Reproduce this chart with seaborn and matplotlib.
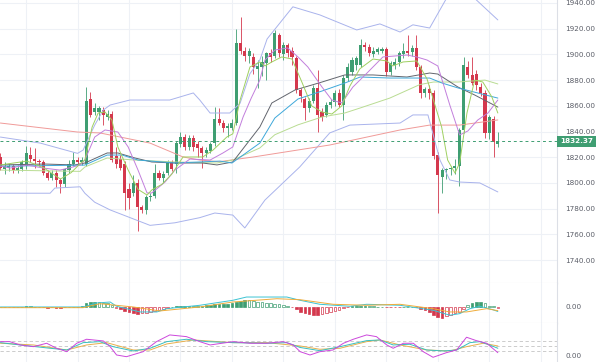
import numpy as np
import pandas as pd
import seaborn as sns
import matplotlib.pyplot as plt
import matplotlib.transforms as mtrans

# =========================
# DATA
# =========================
opens = [1820, 1811, 1812, 1813, 1810, 1811, 1813, 1822, 1819, 1817,
         1816, 1808, 1804, 1808, 1802, 1799, 1810, 1815, 1818, 1816,
         1815, 1865, 1855, 1855, 1857, 1851, 1854, 1821, 1819, 1815,
         1795, 1792, 1800, 1781, 1779, 1789, 1790, 1808, 1804, 1808,
         1816, 1815, 1830, 1836, 1828, 1835, 1830, 1827, 1823, 1825,
         1831, 1850, 1847, 1843, 1843, 1847, 1909, 1903, 1899, 1898,
         1889, 1890, 1893, 1901, 1899, 1915, 1900, 1907, 1903, 1897,
         1872, 1865, 1858, 1864, 1874, 1855, 1853, 1861, 1863, 1870,
         1861, 1882, 1886, 1892, 1892, 1907, 1906, 1900, 1902, 1903,
         1904, 1886, 1892, 1894, 1900, 1903, 1902, 1905, 1890, 1870,
         1873, 1870, 1822, 1805, 1810, 1811, 1812, 1813, 1841, 1890,
         1884, 1885, 1875, 1870, 1839, 1850, 1830.5]
highs = [1823, 1816, 1815, 1815, 1814, 1818, 1829, 1828, 1827, 1819,
         1818, 1810, 1810, 1810, 1804, 1812, 1818, 1824, 1820, 1820,
         1875, 1871, 1862, 1860, 1859, 1857, 1856, 1828, 1822, 1817,
         1800, 1806, 1803, 1783, 1791, 1792, 1815, 1810, 1809, 1818,
         1818, 1833, 1840, 1838, 1837, 1837, 1833, 1829, 1828, 1832,
         1859, 1858, 1849, 1847, 1850, 1920, 1929, 1906, 1905, 1901,
         1896, 1899, 1902, 1904, 1919, 1917, 1910, 1909, 1906, 1899,
         1874, 1867, 1866, 1876, 1888, 1858, 1863, 1865, 1872, 1873,
         1884, 1893, 1898, 1899, 1912, 1910, 1908, 1906, 1906, 1906,
         1906, 1895, 1897, 1903, 1909, 1915, 1907, 1915, 1892, 1875,
         1876, 1872, 1824, 1812, 1812, 1813, 1819, 1843, 1898, 1895,
         1898, 1888, 1878, 1872, 1853, 1852, 1840]
lows = [1810, 1807, 1809, 1808, 1808, 1809, 1811, 1816, 1812, 1813,
        1806, 1802, 1802, 1797, 1792, 1797, 1808, 1813, 1815, 1814,
        1813, 1851, 1853, 1849, 1845, 1849, 1816, 1812, 1810, 1779,
        1780, 1790, 1763, 1777, 1776, 1786, 1788, 1802, 1800, 1806,
        1809, 1808, 1828, 1826, 1826, 1825, 1820, 1812, 1820, 1823,
        1829, 1845, 1840, 1836, 1841, 1845, 1900, 1895, 1893, 1885,
        1874, 1883, 1880, 1894, 1897, 1898, 1896, 1898, 1892, 1870,
        1863, 1849, 1855, 1862, 1840, 1848, 1851, 1858, 1860, 1859,
        1849, 1879, 1884, 1888, 1890, 1903, 1899, 1898, 1900, 1901,
        1883, 1884, 1889, 1891, 1897, 1899, 1899, 1888, 1866, 1867,
        1865, 1819, 1777, 1792, 1803, 1806, 1807, 1798, 1839, 1882,
        1876, 1872, 1868, 1835, 1834, 1820, 1828]
closes = [1812, 1813, 1813, 1810, 1812, 1816, 1823, 1819, 1817, 1816,
          1808, 1804, 1808, 1802, 1799, 1811, 1815, 1818, 1816, 1818,
          1864, 1853, 1858, 1858, 1853, 1854, 1818, 1815, 1812, 1792,
          1788, 1800, 1781, 1779, 1789, 1790, 1808, 1804, 1807, 1816,
          1811, 1831, 1836, 1828, 1835, 1828, 1827, 1823, 1826, 1830,
          1850, 1847, 1843, 1844, 1847, 1909, 1903, 1899, 1903, 1890,
          1891, 1894, 1901, 1898, 1917, 1901, 1907, 1901, 1898, 1872,
          1868, 1858, 1864, 1874, 1853, 1851, 1861, 1863, 1870, 1861,
          1882, 1890, 1896, 1897, 1907, 1906, 1901, 1903, 1904, 1904,
          1886, 1893, 1894, 1901, 1903, 1901, 1905, 1890, 1870, 1873,
          1870, 1821, 1806, 1810, 1811, 1812, 1813, 1841, 1892, 1884,
          1878, 1876, 1870, 1839, 1851, 1832, 1832.37]
last_price = 1832.37

# indicator lines on the price panel: (candle index, price) points
bb_up_x = [0, 9.3, 18, 19.3, 22, 24, 25.6, 30.2, 39.5, 45, 46.5, 48.9, 53.5, 55.9,
           58.2, 60.5, 62.2, 68.2, 74.5, 83.1, 88.5, 93.2, 96.2, 100.1, 104.1, 108, 111.1, 116]
bb_up_y = [1835.7, 1831, 1823, 1825.6, 1845, 1856.7, 1860.6, 1864.5, 1864.5, 1870, 1864.5,
           1854.4, 1854.4, 1862, 1885, 1895.6, 1912, 1937, 1930.7, 1919, 1923.7, 1917.4,
           1923, 1920.5, 1944, 1952, 1942, 1926.8]
bb_lo_x = [0, 11.6, 12.7, 18.6, 19.7, 22, 25.6, 34.9, 40.7, 46.5, 50, 54.2, 57, 61.7,
           69.8, 76.8, 81.5, 93.2, 96.2, 99.7, 102.5, 104.8, 107.1, 111.8, 116]
bb_lo_y = [1792, 1792, 1796, 1797, 1792, 1785, 1779, 1767, 1769, 1773, 1776.6, 1775, 1765,
           1786.7, 1812.4, 1838.9, 1845, 1846.6, 1852.9, 1852.9, 1817.8, 1802.3, 1800.7,
           1800, 1793]
ma_red_x = [0, 18, 23.2, 34.9, 42.6, 46.5, 51, 54.2, 59, 76.8, 93.2, 100.1, 107.1, 116]
ma_red_y = [1846.6, 1839.6, 1838.9, 1831, 1820.2, 1817.8, 1816.5, 1818, 1820.2, 1829.5,
            1841.2, 1845, 1845, 1849]
ma_gray_x = [0, 10.4, 17.4, 19.7, 24.9, 27.4, 31.4, 35.3, 40.7, 47.2, 50.5, 54.2, 60.5,
             63.3, 68.7, 75, 80.3, 86.9, 94.8, 100.1, 102, 106.7, 110.6, 116]
ma_gray_y = [1814, 1814.7, 1814, 1815.5, 1823.3, 1823.3, 1819.4, 1816.3, 1815.5, 1815.5,
             1814, 1816.3, 1843.5, 1862.2, 1872.3, 1878.5, 1884, 1884, 1882.4, 1885.5,
             1884.7, 1874.6, 1868.4, 1859]
ma_blue_x = [0, 19.7, 24.9, 28.4, 32.1, 40.7, 51.2, 54, 60.5, 64, 69.4, 75, 80.3, 83.9,
             90.8, 100.1, 103, 106.7, 111.3, 116]
ma_blue_y = [1813, 1813.9, 1821.7, 1821.7, 1817.8, 1815.5, 1817, 1815.5, 1831, 1850.5,
             1865.3, 1871.5, 1877.7, 1882.4, 1881.6, 1881.6, 1877.7, 1873.9, 1870, 1866]
ma_lgreen_x = [0, 18.6, 19.7, 24.9, 31.4, 40.7, 50.5, 54.2, 60.5, 64, 69.4, 75, 80.3,
               83.9, 90.8, 97.8, 101, 106.7, 113, 116]
ma_lgreen_y = [1810, 1809, 1812.4, 1819.4, 1817.8, 1816.3, 1815.5, 1817.8, 1827.2, 1837.5,
               1845.2, 1851.3, 1854.4, 1858.3, 1866, 1876.5, 1878.5, 1878.5, 1880, 1877]
ma_purple_x = [0, 2.3, 6.2, 10, 13.9, 16.9, 18.6, 19.7, 22, 24.4, 27.4, 29.8, 32.1, 34.2,
               35.3, 38.4, 40.7, 44.2, 48.9, 51.9, 54.2, 56.6, 58.5, 60.5, 61.7, 64, 67,
               69.4, 71.7, 75, 77.3, 79.6, 82.2, 85.5, 89.2, 94.8, 97.1, 99.5, 102, 104.8,
               107.1, 109, 111.3, 113.7, 116]
ma_purple_y = [1813.1, 1811.6, 1813.9, 1811.6, 1810, 1812.4, 1814, 1817.8, 1835.7, 1841.2,
               1839.6, 1828, 1810, 1792.2, 1792.2, 1800.7, 1810, 1818.6, 1817.8, 1823.3,
               1828, 1851.3, 1866, 1880, 1895.6, 1903.4, 1905, 1898, 1890.2, 1874.6,
               1864.5, 1862.2, 1874.6, 1885.5, 1898, 1899.5, 1898, 1895.6, 1891, 1860.6,
               1837.3, 1840.4, 1848.9, 1854.4, 1864.5]
ema_fast_x = [0, 6.2, 10, 14, 16.5, 18.6, 19.7, 21.4, 22.8, 24.4, 26, 27.4, 29.8, 32.1,
              34.2, 35.3, 37.7, 40, 42.6, 47.2, 49.6, 52.8, 54.2, 55.9, 58.2, 60.5, 61.7,
              63.3, 65.6, 68, 70.3, 72.6, 75, 77.3, 79.6, 81.5, 83.8, 86.9, 90.1, 91.5,
              93.9, 97.1, 99.5, 102.9, 104.3, 106, 107.1, 108.8, 110.6, 112.5, 114.6, 116]
ema_fast_y = [1814, 1817, 1812, 1803, 1808, 1815, 1817.8, 1843.5, 1854.4, 1855.2, 1849,
              1828, 1810, 1795, 1790.6, 1794.5, 1799, 1807, 1820.2, 1820.2, 1825.6,
              1835.7, 1838.2, 1864.5, 1890.2, 1894.1, 1891, 1894.1, 1898, 1896.4, 1878.5,
              1859.9, 1855.2, 1853.6, 1859.9, 1875.4, 1888.7, 1896.4, 1894.9, 1891,
              1894.1, 1894.9, 1880.8, 1843.5, 1817.8, 1807.7, 1815.5, 1854.4, 1880,
              1878.5, 1866.9, 1854.4]

# MACD panel
macd_hist = [0.3, 0.2, -0.2, -0.3, 0.2, 0.4, 0.6, 0.5, 0.3, 0.2,
             -0.3, -0.6, -0.5, -0.7, -0.8, -0.4, 0.2, 0.4, 0.3,
             1.0, 3.5, 4.5, 5.0, 4.8, 4.2, 3.5,
             1.5, -0.8, -2.5, -4.5, -5.5, -6.0, -6.7, -6.5, -6.0, -5.0, -4.0,
             -2.8, -2.0, -1.0,
             0.3, 0.8, 1.0, 1.2, 1.3, 1.2, 1.0, 1.2, 1.5, 1.8,
             2.5, 2.8, 3.0, 3.0,
             3.5, 5.5, 6.5, 7.0, 6.8, 6.0, 5.0,
             4.5, 4.0, 3.5, 3.0, 2.5, 1.8, 1.0,
             -0.5, -2.5,
             -5.0, -6.5, -7.5, -8.0, -8.0, -7.5,
             -6.5, -5.5, -4.5, -3.0, -1.5,
             -0.5, 0.5, 0.8, 1.0, 1.0, 0.7, 0.5, 0.4, 0.3, -0.3, -0.4, -0.3,
             -0.2, 0.2, 0.3, 0.2, -0.3,
             -2.0, -3.5, -5.0, -8.0, -10.0, -11.0,
             -9.5, -8.0, -6.5, -5.0, -2.5,
             1.5, 3.5, 5.0, 5.0, 4.0,
             1.0, 0.8, -0.7]
macd_x = [0, 19.3, 22.5, 25.6, 27.1, 32.6, 36.5, 38.8, 46.5, 54.2, 57.4, 66.8, 69.9,
          74.5, 81.5, 85.4, 93.2, 100.9, 104.8, 107.1, 109.5, 111.8, 114.8, 116]
macd_y = [0, 0, 4, 5, 0.7, -5, -5, -1.7, 1.7, 6.7, 10, 10, 6.7,
          2.7, 0.7, 2.7, 1.7, -3.3, -8.3, -6.7, -1.7, 0.7, -2.7, -4.5]
signal_x = [0, 19.3, 23.2, 31, 37.2, 46.5, 54.2, 64.5, 69.9, 77.6, 85.4, 93.2, 100.9,
            104.8, 108.7, 113.4, 116]
signal_y = [-0.7, -0.7, 3.3, 0, -4, 0, 5, 8.3, 7.3, 2.7, 1.7, 2.7, -1.7,
            -5, -5, -1.7, -3.7]

# oscillator panel
osc_levels = [15, 10, 5]
osc_mag_x = [0, 2.2, 4.6, 7.7, 10.8, 13.1, 15.5, 17.8, 20.1, 24, 25.6, 27.1, 29.4, 33.3,
             36.4, 39.5, 43.4, 46.5, 48.9, 54.3, 58.2, 62.1, 66, 68.3, 69.9, 72.2, 74.5,
             77.6, 80, 82.3, 85.4, 87.7, 90.1, 91.6, 94, 96.3, 98.6, 100.9, 104, 106.4,
             108.7, 111, 113.4, 116]
osc_mag_y = [14.3, 14.3, 11, 9.3, 12.7, 7.7, 4.3, 12.7, 16.7, 15, 9.3, 1, -0.7, 4.3,
             14.3, 21, 19.3, 14.3, 11, 14.3, 12.7, 12.7, 14.3, 11, 4.3, 1, 4.3,
             6, 12.7, 16.7, 21, 19.3, 11, 7.7, 12.7, 12.7, 4.3, -1.3, 3.3, 6,
             18.7, 15.3, 12.7, 3.3]
osc_teal_x = [0, 4.6, 11.6, 15.5, 19.3, 23.2, 26.3, 31, 34.9, 38.8, 43.4, 48.1, 54.3,
              62.1, 66.8, 69.9, 74.5, 79.2, 85.4, 88.5, 91.6, 95.5, 99.4, 103.3, 106.4,
              109.5, 111.8, 114.1, 116]
osc_teal_y = [13.3, 11, 7.7, 6, 13.3, 14.3, 9.3, 5, 7.7, 14.3, 16.7, 14.3, 13.3,
              12.7, 13.3, 8.5, 5.3, 9.3, 15.3, 16, 11, 11.7, 6, 5, 6,
              13.3, 14.3, 11, 7.7]
osc_orange_x = [0, 7.7, 15.5, 20.1, 24.8, 31, 34.9, 38.8, 45, 54.3, 62.1, 69.9, 74.5,
                79.2, 85.4, 88.5, 93.2, 99.4, 104.8, 108.7, 112.6, 116]
osc_orange_y = [12.7, 11, 6, 11, 13.3, 6, 6, 12, 16, 13.3, 13.3, 10, 6.7,
                7.7, 14.3, 16, 11, 6, 5, 9.3, 12.7, 10]

price_ticks = list(range(1740, 1941, 20))

# =========================
# STYLE
# =========================
GREEN = "#3f9e72"
RED = "#d4384d"
GRID = "#eef1f6"
SPINE = "#dcdfe6"
TXT = "#5b5e68"

sns.set_theme(style="white")
plt.rcParams["font.family"] = ["DejaVu Sans"]

fig = plt.figure(figsize=(6, 3.62), dpi=100)
ax = fig.add_axes([0, 0.218, 0.928, 0.782])
ax_m = fig.add_axes([0, 0.108, 0.928, 0.110], sharex=ax)
ax_s = fig.add_axes([0, 0.0, 0.928, 0.108], sharex=ax)

for a in (ax, ax_m, ax_s):
    a.set_facecolor("white")
    for s in ("left", "top"):
        a.spines[s].set_visible(False)
    for s in ("right", "bottom"):
        a.spines[s].set_color(SPINE)
        a.spines[s].set_linewidth(0.8)
    a.yaxis.tick_right()
    a.tick_params(axis="y", length=0, pad=6, labelsize=5.2, labelcolor=TXT)
    a.tick_params(axis="x", length=0, labelbottom=False)
    a.set_xticks(range(6, 130, 12))
    a.grid(axis="x", color=GRID, linewidth=0.8)
    a.set_axisbelow(True)
ax_s.spines["bottom"].set_visible(False)

# =========================
# PRICE PANEL
# =========================
o = np.array(opens, dtype=float)
h = np.array(highs, dtype=float)
l = np.array(lows, dtype=float)
c = np.array(closes, dtype=float)
idx = np.arange(len(o))
cols = np.where(c >= o, GREEN, RED)

ax.grid(axis="y", color=GRID, linewidth=0.8)
ax.vlines(idx, l, h, colors=cols, linewidth=0.6, zorder=3)
body = np.maximum(np.abs(c - o), 0.6)
ax.bar(idx, body, bottom=np.minimum(o, c), width=0.72, color=cols, linewidth=0, zorder=4)

lines = [
    (bb_up_x, bb_up_y, "#a9b3ec"),
    (bb_lo_x, bb_lo_y, "#a9b3ec"),
    (ma_red_x, ma_red_y, "#f09a98"),
    (ma_lgreen_x, ma_lgreen_y, "#b9dc92"),
    (ma_gray_x, ma_gray_y, "#62656d"),
    (ma_blue_x, ma_blue_y, "#3ea8da"),
    (ma_purple_x, ma_purple_y, "#c27fdc"),
    (ema_fast_x, ema_fast_y, "#9fd060"),
]
for xs, ys, colr in lines:
    sns.lineplot(x=xs, y=ys, ax=ax, color=colr, linewidth=0.7, zorder=5)

ax.axhline(last_price, color=GREEN, linewidth=0.7, linestyle=(0, (3, 3)), zorder=6)
ax.set_yticks(price_ticks)
ax.set_yticklabels([f"{t:.2f}" for t in price_ticks])
ax.set_ylim(1722.1, 1942.3)

trans = mtrans.blended_transform_factory(ax.transAxes, ax.transData)
ax.text(1.006, last_price, f"{last_price:.2f}", transform=trans, ha="left", va="center",
        fontsize=5.2, color="white", fontweight="bold", clip_on=False,
        bbox=dict(boxstyle="square,pad=0.38", fc=GREEN, ec="none"))

# =========================
# MACD PANEL
# =========================
hist = np.array(macd_hist)
prev = np.concatenate([[0], hist[:-1]])
filled = np.abs(hist) >= np.abs(prev)
hcol = np.where(hist >= 0, GREEN, RED)
face = [hc if f else "white" for hc, f in zip(hcol, filled)]
ax_m.bar(np.arange(len(hist)), hist, width=0.62, color=face, edgecolor=hcol,
         linewidth=0.5, zorder=3)
sns.lineplot(x=macd_x, y=macd_y, ax=ax_m, color="#3cc3d3", linewidth=0.7, zorder=4)
sns.lineplot(x=signal_x, y=signal_y, ax=ax_m, color="#efac3a", linewidth=0.7, zorder=4)
ax_m.set_ylim(-16, 24)
ax_m.set_yticks([0])
ax_m.set_yticklabels(["0.00"])

# =========================
# OSCILLATOR PANEL
# =========================
for lv in osc_levels:
    ax_s.axhline(lv, color="#c4c4c4", linewidth=0.6, linestyle=(0, (4, 3)), zorder=2)
sns.lineplot(x=osc_orange_x, y=osc_orange_y, ax=ax_s, color="#e9b04c", linewidth=0.7, zorder=3)
sns.lineplot(x=osc_teal_x, y=osc_teal_y, ax=ax_s, color="#38bfbf", linewidth=0.7, zorder=3)
sns.lineplot(x=osc_mag_x, y=osc_mag_y, ax=ax_s, color="#cc47dc", linewidth=0.7, zorder=3)
ax_s.set_ylim(-6, 33)
ax_s.set_yticks([0])
ax_s.set_yticklabels(["0.00"])

for a in (ax, ax_m, ax_s):
    a.set_xlabel("")
    a.set_ylabel("")
    a.set_xlim(-0.084, 129.75)

fig.savefig("out.png", dpi=100)
